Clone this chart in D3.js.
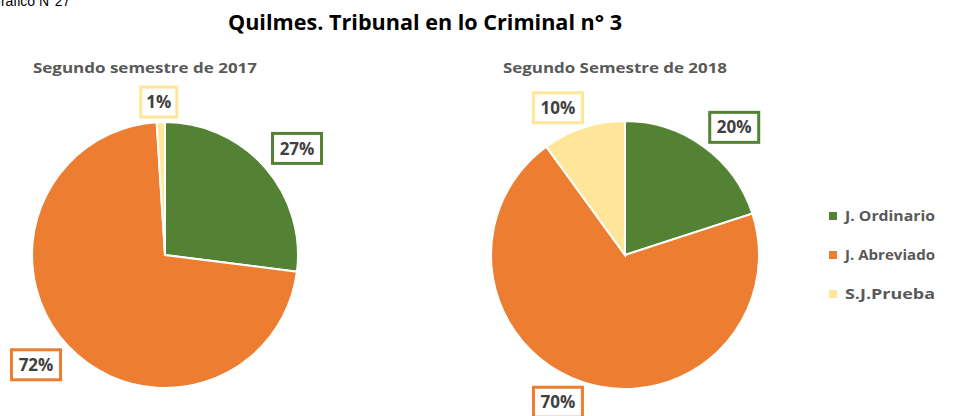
<!DOCTYPE html>
<html>
<head>
<meta charset="utf-8">
<script src="https://cdn.jsdelivr.net/npm/d3@7"></script>
<style>
  body { margin: 0; background: #fff; }
  svg { display: block; }
  text { font-family: "Open Sans", "Noto Sans", sans-serif; font-weight: bold; }
</style>
</head>
<body>
<svg id="chart" width="958" height="416"></svg>
<script>
// datos
var categories = ["J. Ordinario", "J. Abreviado", "S.J.Prueba"];
var colors = ["#548235", "#ED7D31", "#FFE699"];
var values2017 = [27, 72, 1];
var values2018 = [20, 70, 10];
var subtitles = ["Segundo semestre de 2017", "Segundo Semestre de 2018"];

var svg = d3.select("#chart");

// texto cortado arriba a la izquierda
svg.append("text")
    .attr("x", -10).attr("y", 6)
    .style("font-family", "Arial, 'Liberation Sans', sans-serif")
    .style("font-weight", "normal")
    .style("font-size", "14px")
    .attr("fill", "#000")
    .text("Gráfico N°27");

// titulo
svg.append("text")
    .attr("x", 228).attr("y", 30)
    .attr("textLength", 394).attr("lengthAdjust", "spacingAndGlyphs")
    .style("font-size", "22px")
    .attr("fill", "#000")
    .text("Quilmes. Tribunal en lo Criminal n° 3");

var pies = [
    { values: values2017, cx: 165, cy: 255, r: 133, title: subtitles[0], tx: 33 },
    { values: values2018, cx: 625, cy: 255, r: 134, title: subtitles[1], tx: 503 }
];

var pie = d3.pie().sort(null).value(function(d){ return d; });

function clamp(v){ return Math.max(-1, Math.min(1, v)); }

pies.forEach(function(p){
    var g = svg.append("g").attr("transform", "translate(" + p.cx + "," + p.cy + ")");
    var arc = d3.arc().innerRadius(0).outerRadius(p.r);
    var arcs = pie(p.values);

    g.selectAll("path.slice")
        .data(arcs)
        .enter().append("path")
        .attr("class", "slice")
        .attr("d", arc)
        .attr("fill", function(d, i){ return colors[i]; })
        .attr("stroke", "#fff")
        .attr("stroke-width", 2);

    // etiquetas con recuadro, fuera del borde (esquina del recuadro junto al arco)
    var lab = g.selectAll("g.lab")
        .data(arcs)
        .enter().append("g")
        .attr("class", "lab")
        .attr("transform", function(d){
            var a = (d.startAngle + d.endAngle) / 2,
                ux = Math.sin(a), uy = -Math.cos(a),
                w = d.data < 10 ? 18 : 24, h = 16;
            var x = ux * (p.r + 11) + w * clamp(ux * 3),
                y = uy * (p.r + 4) + h * clamp(uy * 3);
            return "translate(" + x + "," + y + ")";
        });
    lab.append("rect")
        .attr("x", function(d){ return d.data < 10 ? -18 : -24.5; })
        .attr("width", function(d){ return d.data < 10 ? 36 : 49; })
        .attr("y", -15).attr("height", 30)
        .attr("fill", "#fff")
        .attr("stroke", function(d, i){ return colors[i]; })
        .attr("stroke-width", 3);
    lab.append("text")
        .attr("text-anchor", "middle")
        .attr("dy", "0.36em")
        .style("font-size", "17px")
        .attr("fill", "#404040")
        .text(function(d){ return d.data + "%"; });

    svg.append("text")
        .attr("x", p.tx).attr("y", 73)
        .attr("textLength", 224).attr("lengthAdjust", "spacingAndGlyphs")
        .style("font-size", "15px")
        .attr("fill", "#595959")
        .text(p.title);
});

// leyenda
var legY = d3.scalePoint().domain(categories).range([216, 294]);
var leg = svg.selectAll("g.leg")
    .data(categories)
    .enter().append("g")
    .attr("class", "leg")
    .attr("transform", function(d){ return "translate(829," + legY(d) + ")"; });
leg.append("rect")
    .attr("x", 0).attr("y", -4).attr("width", 8).attr("height", 8)
    .attr("fill", function(d, i){ return colors[i]; });
leg.append("text")
    .attr("x", 16).attr("dy", "0.36em")
    .attr("textLength", 90).attr("lengthAdjust", "spacingAndGlyphs")
    .style("font-size", "15px")
    .attr("fill", "#595959")
    .text(function(d){ return d; });
</script>
</body>
</html>
